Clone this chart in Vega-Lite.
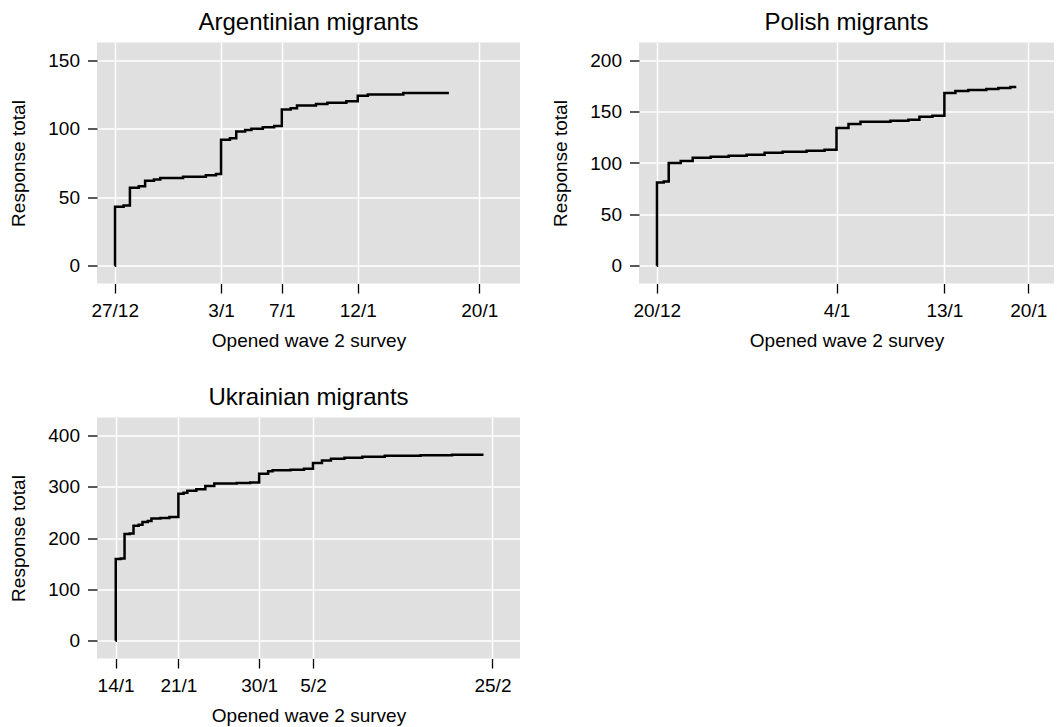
{
  "$schema": "https://vega.github.io/schema/vega-lite/v6.json",
  "background": "white",
  "padding": {"left": 9, "top": 10.5, "right": 5, "bottom": 0},
  "datasets": {
    "arg": [
      {"date": "2022-12-27T00:00", "total": 0},
      {"date": "2022-12-27T00:30", "total": 43},
      {"date": "2022-12-27T14:00", "total": 44},
      {"date": "2022-12-28T00:00", "total": 57},
      {"date": "2022-12-28T14:00", "total": 58},
      {"date": "2022-12-29T00:00", "total": 62},
      {"date": "2022-12-29T14:00", "total": 63},
      {"date": "2022-12-30T00:00", "total": 64},
      {"date": "2022-12-31T12:00", "total": 65},
      {"date": "2023-01-02T00:00", "total": 66},
      {"date": "2023-01-02T16:00", "total": 67},
      {"date": "2023-01-03T00:00", "total": 92},
      {"date": "2023-01-03T14:00", "total": 93},
      {"date": "2023-01-04T00:00", "total": 98},
      {"date": "2023-01-04T14:00", "total": 99},
      {"date": "2023-01-05T00:00", "total": 100},
      {"date": "2023-01-05T18:00", "total": 101},
      {"date": "2023-01-06T12:00", "total": 102},
      {"date": "2023-01-07T00:00", "total": 114},
      {"date": "2023-01-07T14:00", "total": 115},
      {"date": "2023-01-08T00:00", "total": 117},
      {"date": "2023-01-09T06:00", "total": 118},
      {"date": "2023-01-10T00:00", "total": 119},
      {"date": "2023-01-11T06:00", "total": 120},
      {"date": "2023-01-12T00:00", "total": 124},
      {"date": "2023-01-12T16:00", "total": 125},
      {"date": "2023-01-15T00:00", "total": 126},
      {"date": "2023-01-18T00:00", "total": 126}
    ],
    "pol": [
      {"date": "2022-12-20T00:00", "total": 0},
      {"date": "2022-12-20T00:30", "total": 81},
      {"date": "2022-12-20T14:00", "total": 82},
      {"date": "2022-12-21T00:00", "total": 100},
      {"date": "2022-12-22T00:00", "total": 102},
      {"date": "2022-12-23T00:00", "total": 105},
      {"date": "2022-12-24T12:00", "total": 106},
      {"date": "2022-12-26T00:00", "total": 107},
      {"date": "2022-12-27T12:00", "total": 108},
      {"date": "2022-12-29T00:00", "total": 110},
      {"date": "2022-12-30T12:00", "total": 111},
      {"date": "2023-01-01T12:00", "total": 112},
      {"date": "2023-01-03T00:00", "total": 113},
      {"date": "2023-01-04T00:00", "total": 134},
      {"date": "2023-01-05T00:00", "total": 138},
      {"date": "2023-01-06T00:00", "total": 140},
      {"date": "2023-01-08T12:00", "total": 141},
      {"date": "2023-01-10T00:00", "total": 142},
      {"date": "2023-01-10T22:00", "total": 145},
      {"date": "2023-01-12T00:00", "total": 146},
      {"date": "2023-01-13T00:00", "total": 168},
      {"date": "2023-01-13T22:00", "total": 170},
      {"date": "2023-01-15T00:00", "total": 171},
      {"date": "2023-01-16T12:00", "total": 172},
      {"date": "2023-01-17T12:00", "total": 173},
      {"date": "2023-01-18T12:00", "total": 174},
      {"date": "2023-01-19T00:00", "total": 174}
    ],
    "ukr": [
      {"date": "2023-01-14T00:00", "total": 0},
      {"date": "2023-01-14T00:30", "total": 159},
      {"date": "2023-01-14T14:00", "total": 160},
      {"date": "2023-01-15T00:00", "total": 208},
      {"date": "2023-01-15T14:00", "total": 209},
      {"date": "2023-01-16T00:00", "total": 224},
      {"date": "2023-01-16T14:00", "total": 226},
      {"date": "2023-01-17T00:00", "total": 231},
      {"date": "2023-01-17T14:00", "total": 233},
      {"date": "2023-01-18T00:00", "total": 238},
      {"date": "2023-01-19T00:00", "total": 239},
      {"date": "2023-01-20T00:00", "total": 241},
      {"date": "2023-01-21T00:00", "total": 286},
      {"date": "2023-01-21T14:00", "total": 288},
      {"date": "2023-01-22T00:00", "total": 292},
      {"date": "2023-01-23T00:00", "total": 295},
      {"date": "2023-01-24T00:00", "total": 301},
      {"date": "2023-01-25T00:00", "total": 306},
      {"date": "2023-01-27T12:00", "total": 307},
      {"date": "2023-01-29T00:00", "total": 308},
      {"date": "2023-01-30T00:00", "total": 325},
      {"date": "2023-01-31T00:00", "total": 330},
      {"date": "2023-01-31T12:00", "total": 332},
      {"date": "2023-02-02T12:00", "total": 333},
      {"date": "2023-02-04T00:00", "total": 335},
      {"date": "2023-02-05T00:00", "total": 346},
      {"date": "2023-02-06T00:00", "total": 351},
      {"date": "2023-02-07T00:00", "total": 354},
      {"date": "2023-02-08T12:00", "total": 356},
      {"date": "2023-02-10T12:00", "total": 358},
      {"date": "2023-02-13T00:00", "total": 360},
      {"date": "2023-02-17T00:00", "total": 361},
      {"date": "2023-02-20T12:00", "total": 362},
      {"date": "2023-02-24T00:00", "total": 362}
    ]
  },
  "config": {
    "view": {"fill": "#e0e0e0", "stroke": null},
    "font": "Liberation Sans",
    "axis": {
      "domain": false,
      "grid": true,
      "gridColor": "white",
      "gridWidth": 1.5,
      "gridOpacity": 1,
      "ticks": true,
      "tickColor": "black",
      "tickSize": 9.5,
      "tickWidth": 1.3,
      "labelFont": "Liberation Sans",
      "labelFontSize": 19,
      "labelColor": "black",
      "titleFont": "Liberation Sans",
      "titleFontSize": 19,
      "titleFontWeight": "normal",
      "titleColor": "black"
    },
    "axisX": {"labelPadding": 8, "titlePadding": 11},
    "axisY": {"labelPadding": 8, "titlePadding": 19},
    "title": {"font": "Liberation Sans", "fontSize": 24, "fontWeight": "normal", "color": "black", "frame": "group", "anchor": "middle", "offset": 8},
    "line": {"interpolate": "step-after", "color": "black", "strokeWidth": 2.5}
  },
  "vconcat": [
    {
      "hconcat": [
        {
          "title": "Argentinian migrants",
          "width": 423,
          "height": 241,
          "data": {"name": "arg"},
          "mark": {"type": "line"},
          "encoding": {
            "x": {
              "field": "date", "type": "temporal",
              "scale": {"domain": [{"year": 2022, "month": 12, "date": 25, "hours": 20}, {"year": 2023, "month": 1, "date": 22, "hours": 16, "minutes": 20}], "nice": false},
              "axis": {"title": "Opened wave 2 survey", "format": "%-d/%-m", "values": [{"year": 2022, "month": 12, "date": 27}, {"year": 2023, "month": 1, "date": 3}, {"year": 2023, "month": 1, "date": 7}, {"year": 2023, "month": 1, "date": 12}, {"year": 2023, "month": 1, "date": 20}]}
            },
            "y": {
              "field": "total", "type": "quantitative",
              "scale": {"domain": [-12.9, 162.9], "nice": false, "zero": false},
              "axis": {"title": "Response total", "values": [0, 50, 100, 150]}
            }
          }
        },
        {
          "title": "Polish migrants",
          "width": 415,
          "height": 241,
          "data": {"name": "pol"},
          "mark": {"type": "line"},
          "encoding": {
            "x": {
              "field": "date", "type": "temporal",
              "scale": {"domain": [{"year": 2022, "month": 12, "date": 18, "hours": 12, "minutes": 30}, {"year": 2023, "month": 1, "date": 22, "hours": 3, "minutes": 30}], "nice": false},
              "axis": {"title": "Opened wave 2 survey", "format": "%-d/%-m", "values": [{"year": 2022, "month": 12, "date": 20}, {"year": 2023, "month": 1, "date": 4}, {"year": 2023, "month": 1, "date": 13}, {"year": 2023, "month": 1, "date": 20}]}
            },
            "y": {
              "field": "total", "type": "quantitative",
              "scale": {"domain": [-17.2, 217.2], "nice": false, "zero": false},
              "axis": {"title": "Response total", "values": [0, 50, 100, 150, 200]}
            }
          }
        }
      ],
      "spacing": 31
    },
    {
      "title": "Ukrainian migrants",
      "width": 423,
      "height": 241,
      "data": {"name": "ukr"},
      "mark": {"type": "line"},
      "encoding": {
        "x": {
          "field": "date", "type": "temporal",
          "scale": {"domain": [{"year": 2023, "month": 1, "date": 11, "hours": 22, "minutes": 20}, {"year": 2023, "month": 2, "date": 28, "hours": 1, "minutes": 40}], "nice": false},
          "axis": {"title": "Opened wave 2 survey", "format": "%-d/%-m", "values": [{"year": 2023, "month": 1, "date": 14}, {"year": 2023, "month": 1, "date": 21}, {"year": 2023, "month": 1, "date": 30}, {"year": 2023, "month": 2, "date": 5}, {"year": 2023, "month": 2, "date": 25}]}
        },
        "y": {
          "field": "total", "type": "quantitative",
          "scale": {"domain": [-34.5, 434.5], "nice": false, "zero": false},
          "axis": {"title": "Response total", "values": [0, 100, 200, 300, 400]}
        }
      }
    }
  ],
  "spacing": 35
}
